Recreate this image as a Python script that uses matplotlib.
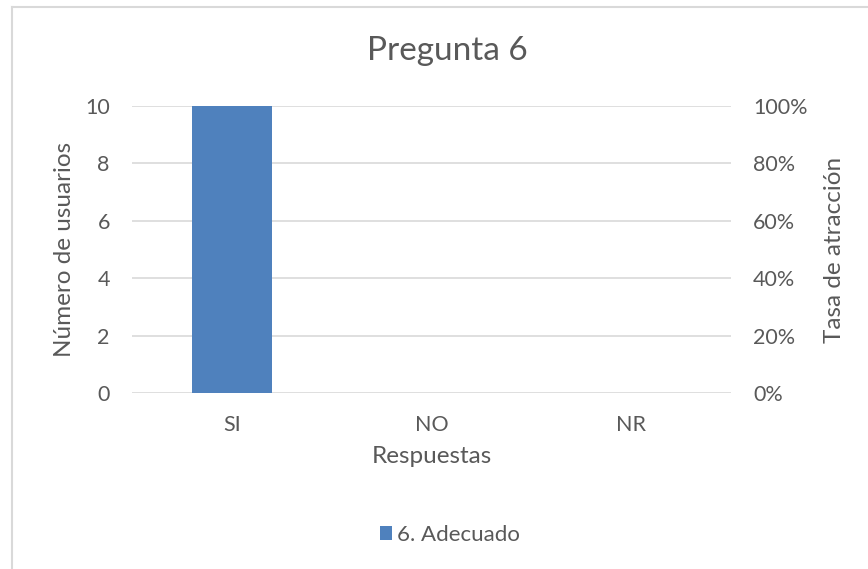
import matplotlib
matplotlib.use("Agg")
import matplotlib.pyplot as plt
from matplotlib.lines import Line2D
from matplotlib.ticker import FuncFormatter

categories = ["SI", "NO", "NR"]
values = [10, 0, 0]
series_name = "6. Adecuado"
left_ticks = [0, 2, 4, 6, 8, 10]
right_ticks = [0, 0.2, 0.4, 0.6, 0.8, 1.0]

plt.rcParams['font.family'] = ['Lato', 'DejaVu Sans']
txt = '#595959'
grid = '#d9d9d9'
bar_color = '#4f81bd'

fig = plt.figure(figsize=(8.68, 5.69), dpi=100)
W, H = 868, 569

# chart frame
fig.add_artist(Line2D([12/W, 12/W], [0, 1 - 7/H], color=grid, lw=1.5, transform=fig.transFigure))
fig.add_artist(Line2D([12/W, 1], [1 - 7/H, 1 - 7/H], color=grid, lw=1.5, transform=fig.transFigure))

ax = fig.add_axes([132/W, 1 - 393/H, (731 - 132)/W, (393 - 106)/H])
x = list(range(len(categories)))
ax.bar(x, values, width=0.4, color=bar_color, zorder=3, label=series_name)
ax.set_xlim(-0.5, len(categories) - 0.5)
ax.set_ylim(0, 10)
ax.set_yticks(left_ticks)
ax.set_xticks(x)
ax.set_xticklabels(categories)
ax.yaxis.grid(True, color=grid, lw=1.2, zorder=0)
for s in ax.spines.values():
    s.set_visible(False)
ax.tick_params(axis='both', length=0, colors=txt, labelsize=15.5)
ax.tick_params(axis='y', pad=16)
ax.tick_params(axis='x', pad=16)
ax.set_ylabel("Número de usuarios", color=txt, fontsize=17.5, labelpad=7)
ax.set_xlabel("Respuestas", color=txt, fontsize=17.5, labelpad=8)

ax2 = ax.twinx()
ax2.set_ylim(0, 1)
ax2.set_yticks(right_ticks)
ax2.yaxis.set_major_formatter(FuncFormatter(lambda v, p: f"{v*100:.0f}%"))
for s in ax2.spines.values():
    s.set_visible(False)
ax2.tick_params(axis='y', length=0, colors=txt, labelsize=15.5, pad=16)
ax2.set_ylabel("Tasa de atracción", color=txt, fontsize=17.5, labelpad=12)

fig.text(447/W, 1 - 51/H, "Pregunta 6", ha='center', va='center', color=txt, fontsize=24)

leg = fig.legend(handles=ax.patches[:1], labels=[series_name], loc='center',
                 bbox_to_anchor=(450/W, 1 - 535/H), frameon=False, fontsize=16,
                 handlelength=0.55, handleheight=0.55, handletextpad=0.25)
for t in leg.get_texts():
    t.set_color(txt)

fig.savefig("out.png", dpi=100, facecolor='white')
